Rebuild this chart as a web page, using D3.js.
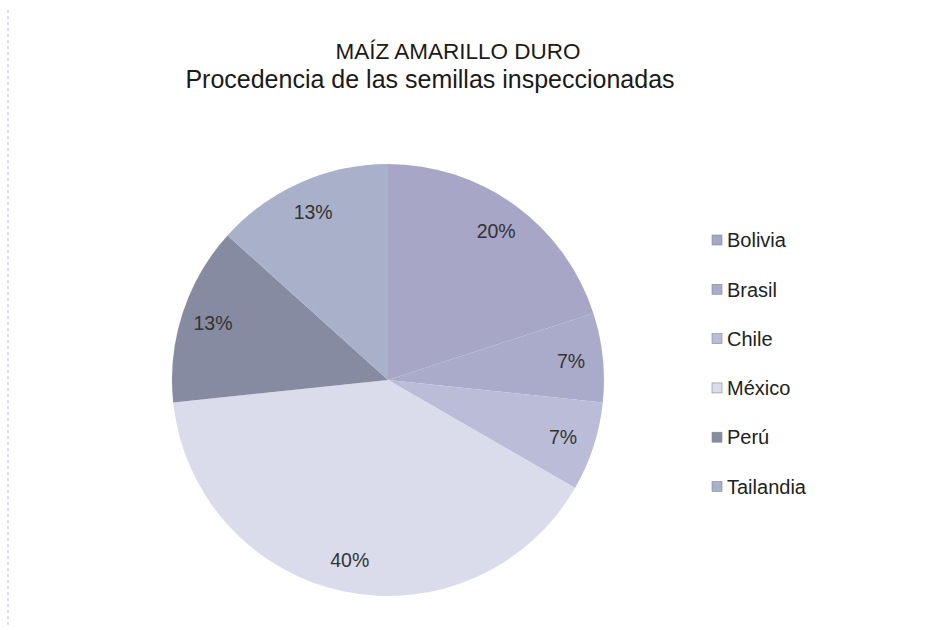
<!DOCTYPE html>
<html>
<head>
<meta charset="utf-8">
<script src="https://cdn.jsdelivr.net/npm/d3@7"></script>
<style>
  body { margin: 0; background: #fff; }
  text { font-family: "Liberation Sans", Arial, sans-serif; }
</style>
</head>
<body>
<div id="chart"></div>
<script>
// data (15 lots inspected)
const countries = ["Bolivia", "Brasil", "Chile", "México", "Perú", "Tailandia"];
const counts = [3, 1, 1, 6, 2, 2];
const sliceColors = ["#a7a6c6", "#aaabca", "#babcd8", "#dadcec", "#868ba1", "#a9b0c9"];

const width = 938, height = 630;
const cx = 388, cy = 380, radius = 216;

const svg = d3.select("#chart")
  .append("svg")
    .attr("width", width)
    .attr("height", height);

// faint dashed edge on the left of the scan
svg.append("line")
  .attr("x1", 8).attr("x2", 8)
  .attr("y1", 10).attr("y2", 625)
  .attr("stroke", "#b4bce0")
  .attr("stroke-width", 1)
  .attr("stroke-dasharray", "3,3");

// titles
svg.append("text")
  .attr("x", 458).attr("y", 59)
  .attr("text-anchor", "middle")
  .attr("font-size", "22.5px")
  .attr("fill", "#1a1a1a")
  .text("MAÍZ AMARILLO DURO");
svg.append("text")
  .attr("x", 430).attr("y", 88)
  .attr("text-anchor", "middle")
  .attr("font-size", "25px")
  .attr("fill", "#1a1a1a")
  .text("Procedencia de las semillas inspeccionadas");

const data = countries.map((c, i) => ({ name: c, value: counts[i], color: sliceColors[i] }));
const total = d3.sum(counts);

const pie = d3.pie().sort(null).value(d => d.value);
const arc = d3.arc().innerRadius(0).outerRadius(radius);
const labelArc = d3.arc().innerRadius(184).outerRadius(184);

const g = svg.append("g").attr("transform", `translate(${cx},${cy})`);

g.selectAll("path")
  .data(pie(data))
  .join("path")
    .attr("d", arc)
    .attr("fill", d => d.data.color)
    .attr("stroke", "none");

g.selectAll("text.lbl")
  .data(pie(data))
  .join("text")
    .attr("class", "lbl")
    .attr("transform", d => `translate(${labelArc.centroid(d)})`)
    .attr("text-anchor", "middle")
    .attr("dy", "0.35em")
    .attr("font-size", "19.5px")
    .attr("fill", "#333")
    .text(d => Math.round(d.data.value / total * 100) + "%");

// legend
const legend = svg.append("g").attr("transform", "translate(712,240)");
const item = legend.selectAll("g")
  .data(data)
  .join("g")
    .attr("transform", (d, i) => `translate(0,${i * 49.3})`);
item.append("rect")
  .attr("x", 0).attr("y", -5)
  .attr("width", 10).attr("height", 10)
  .attr("fill", d => d.color)
  .attr("stroke", "#888")
  .attr("stroke-width", 0.6);
item.append("text")
  .attr("x", 15)
  .attr("dy", "0.36em")
  .attr("font-size", "20px")
  .attr("fill", "#222")
  .text(d => d.name);
</script>
</body>
</html>
